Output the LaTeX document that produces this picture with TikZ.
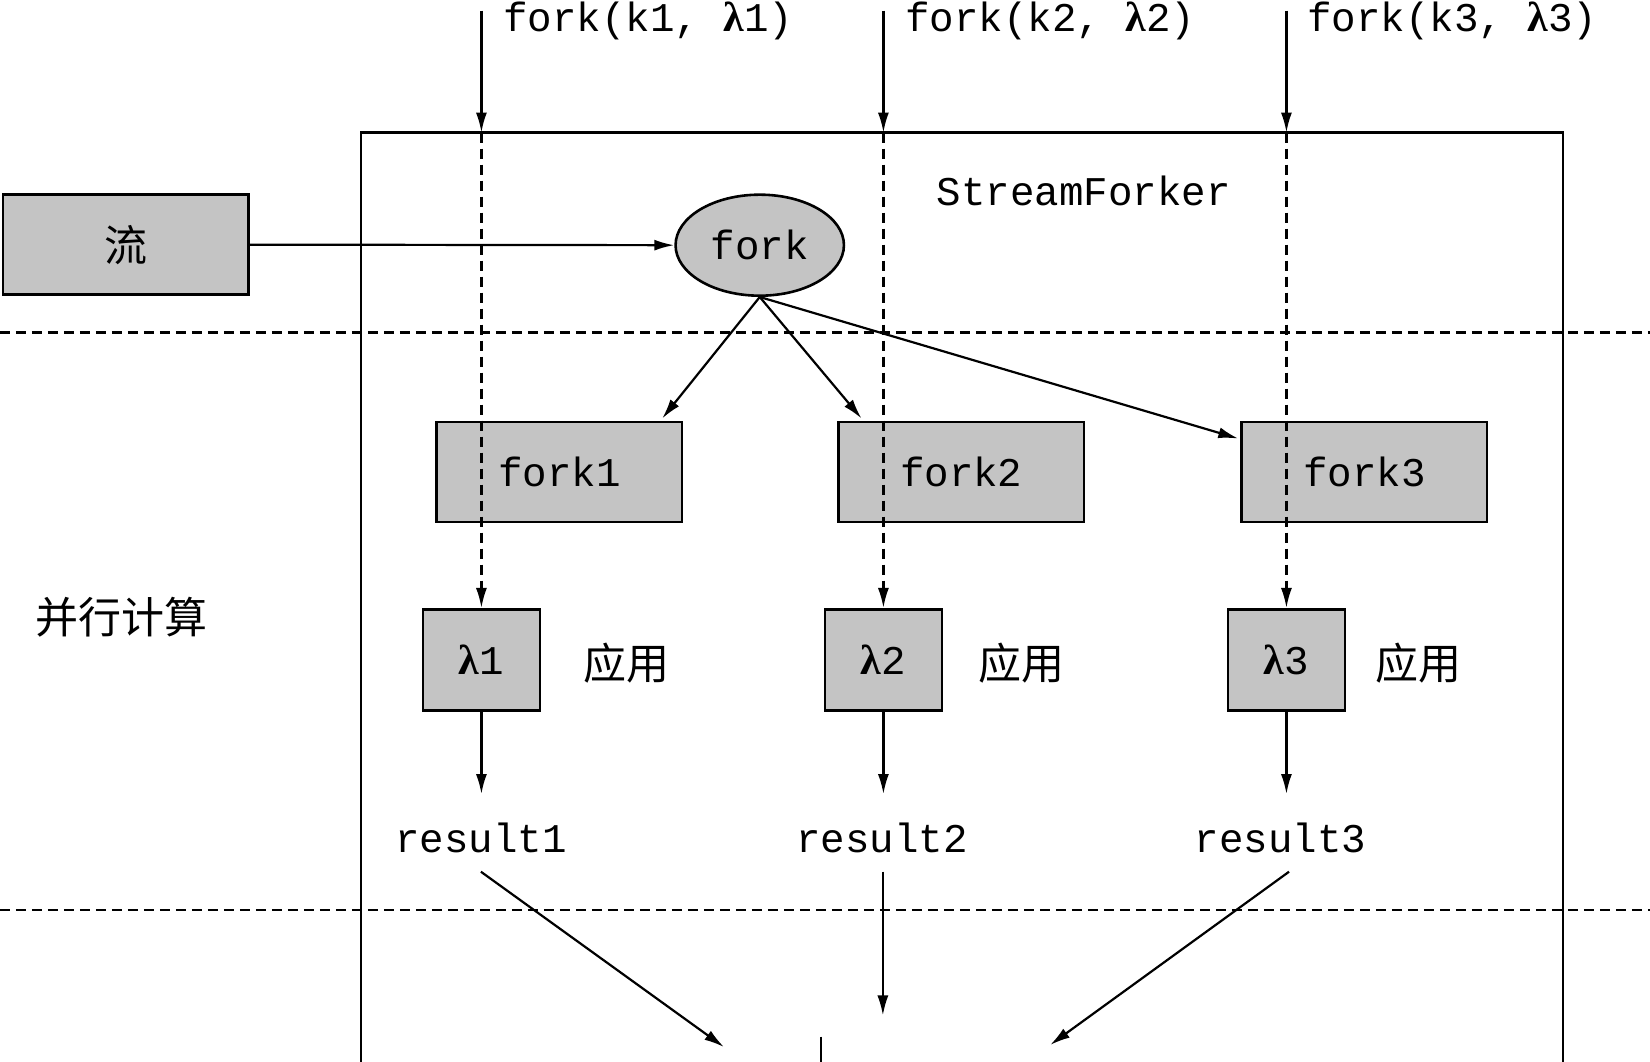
\documentclass[tikz,border=0pt]{standalone}
\usepackage{fontspec}
\setmainfont{Liberation Serif}
\setmonofont{Liberation Mono}
\newfontfamily\cjk{Noto Sans CJK SC}
\newfontfamily\lamfont{Liberation Serif}
\usetikzlibrary{arrows.meta,shapes.geometric,calc}
\definecolor{boxgray}{HTML}{C4C4C4}
\newcommand{\lam}{{\lamfont\bfseries\fontsize{21}{24}\selectfont λ}}
\newcommand{\monofs}{\ttfamily\fontsize{20.4}{24}\selectfont}
\newcommand{\cjkfs}{\cjk\fontsize{21.5}{24}\selectfont}
\def\u{0.5262pt}
\tikzset{
  grayrect/.style={draw,line width=1.3pt,fill=boxgray,inner sep=0pt,minimum width=233*\u,minimum height=95*\u,font=\monofs},
  lamrect/.style={draw,line width=1.3pt,fill=boxgray,inner sep=0pt,minimum width=111*\u,minimum height=96*\u,font=\monofs},
  forkell/.style={draw,ellipse,line width=1.3pt,fill=boxgray,inner sep=0pt,minimum width=160*\u,minimum height=96*\u,font=\monofs},
  arr/.style={line width=1.1pt,-{Latex[length=10pt,width=5.5pt]}},
  sepline/.style={line width=1.1pt,dash pattern=on 5pt off 3pt},
  monolabel/.style={font=\monofs,inner sep=0pt},
  cjklabel/.style={font=\cjkfs,inner sep=0pt},
  reslabel/.style={font=\monofs,inner sep=0pt,minimum height=64*\u},
}
\begin{document}
\begin{tikzpicture}[x=0.5262pt,y=-0.5262pt]
\useasboundingbox (0,0) rectangle (1568,1009);
% outer StreamForker frame (open at bottom)
\draw[line width=1.1pt] (343,1020) -- (343,126) -- (1485,126) -- (1485,1020);
\node[monolabel] (sf) at (1030,181) {StreamForker};
% separators
\coordinate (s1a) at (0,316); \coordinate (s1b) at (1568,316);
\coordinate (s2a) at (0,865); \coordinate (s2b) at (1568,865);
\draw[sepline] (s1a) -- (s1b);
\draw[sepline] (s2a) -- (s2b);
% nodes
\node[grayrect,font=\cjkfs] (stream) at (119.5,232.5) {流};
\node[forkell] (fork) at (722,233) {fork};
\node[grayrect] (f1) at (531.5,448.5) {fork1};
\node[grayrect] (f2) at (913.5,448.5) {fork2};
\node[grayrect] (f3) at (1296.5,448.5) {fork3};
\node[lamrect] (l1) at (457.5,627) {\lam1};
\node[lamrect] (l2) at (839.5,627) {\lam2};
\node[lamrect] (l3) at (1222.5,627) {\lam3};
\node[cjklabel] (a1) at (595,630) {应用};
\node[cjklabel] (a2) at (971,630) {应用};
\node[cjklabel] (a3) at (1348,630) {应用};
\node[cjklabel] (par) at (115,587) {并行计算};
\node[reslabel] (r1) at (457,796) {result1};
\node[reslabel] (r2) at (838,796) {result2};
\node[reslabel] (r3) at (1217,796) {result3};
% top inputs
\coordinate (t1) at (457.5,10); \coordinate (b1) at (457.5,126);
\coordinate (t2) at (839.5,10); \coordinate (b2) at (839.5,126);
\coordinate (t3) at (1222.5,10); \coordinate (b3) at (1222.5,126);
\node[monolabel,anchor=west] (k1) at (478,20) {fork(k1, \lam1)};
\node[monolabel,anchor=west] (k2) at (860,20) {fork(k2, \lam2)};
\node[monolabel,anchor=west] (k3) at (1242,20) {fork(k3, \lam3)};
\draw[arr] (t1) -- (b1);
\draw[arr] (t2) -- (b2);
\draw[arr] (t3) -- (b3);
\draw[arr,sepline] (b1) -- (l1.north);
\draw[arr,sepline] (b2) -- (l2.north);
\draw[arr,sepline] (b3) -- (l3.north);
% stream to fork
\draw[arr] (stream.east) -- (fork.west);
% fork to branches
\draw[arr] (fork.south) -- ($(f1.north east)+(-20,-2)$);
\draw[arr] (fork.south) -- ($(f2.north west)+(23,-2)$);
\draw[arr] (fork.south) -- ($(f3.north west)+(-2,17)$);
% lambda to results
\draw[arr] (l1.south) -- ($(l1.south |- r1.north)+(0,-9)$);
\draw[arr] (l2.south) -- ($(l2.south |- r2.north)+(0,-9)$);
\draw[arr] (l3.south) -- ($(l3.south |- r3.north)+(0,-9)$);
% results to bottom
\coordinate (m1) at (688,995);
\coordinate (m2) at (839,965);
\coordinate (m3) at (998,993);
\draw[arr] (r1.south) -- (m1);
\draw[arr] ($(r2.south)+(1,0)$) -- (m2);
\draw[arr] ($(r3.south)+(8,0)$) -- (m3);
\coordinate (c1) at (780,985); \coordinate (c2) at (780,1020);
\draw[line width=1.1pt] (c1) -- (c2);
\end{tikzpicture}
\end{document}
